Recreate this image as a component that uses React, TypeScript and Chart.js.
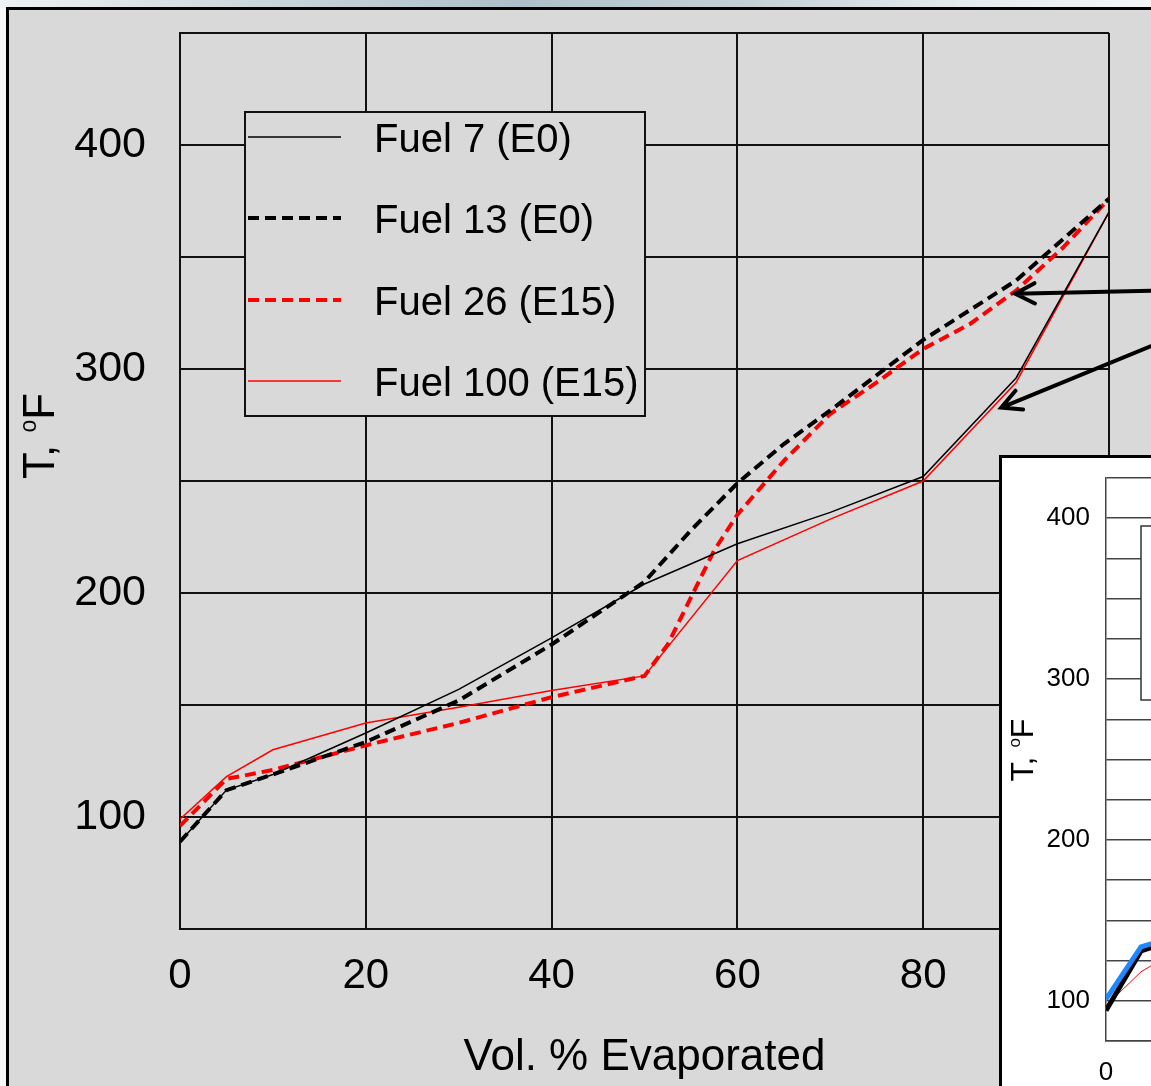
import { useEffect, useRef } from "react";
import { Chart, registerables } from "chart.js";

Chart.register(...registerables);

const FONT = '"Liberation Sans", Arial, sans-serif';

// ---------- Main chart data ----------
const xTicks = [0, 20, 40, 60, 80, 100];
const yTickLabels = [100, 200, 300, 400];

const fuel7X = [0, 5, 10, 20, 30, 40, 50, 60, 70, 80, 90, 100];
const fuel7T = [89, 112, 119, 137.5, 157, 180, 204, 222, 236, 252, 296, 370];

const fuel13X = [0, 5, 10, 20, 30, 40, 45, 50, 55, 60, 65, 70, 80, 90, 100];
const fuel13T = [89, 112, 119, 133.5, 152, 177, 191, 205, 228, 249, 266.5, 281.5, 313, 339.5, 376];

const fuel26X = [0, 5, 10, 20, 30, 40, 50, 52.5, 55, 57.5, 60, 65, 70, 75, 80, 85, 90, 95, 100];
const fuel26T = [96, 117, 121, 132, 142, 153.5, 163, 177, 198, 219, 235, 259, 280, 294, 309, 320, 335, 354, 376];

const fuel100X = [0, 5, 10, 20, 30, 40, 50, 60, 70, 80, 90, 100];
const fuel100T = [99, 118, 130, 142, 149, 156.5, 163, 214.5, 233, 250, 294, 370];

const seriesLabels = ["Fuel 7 (E0)", "Fuel 13 (E0)", "Fuel 26 (E15)", "Fuel 100 (E15)"];

// annotation arrows (data coordinates: tail -> tip)
const arrowTails = [
  [110, 335.4],
  [110, 319.5],
];
const arrowTips = [
  [89.9, 333.6],
  [88.4, 282.8],
];

// ---------- Inset chart data ----------
const insetBlueX = [0, 5, 10];
const insetBlueT = [101, 133.5, 140];
const insetBlackX = [0, 5, 10];
const insetBlackT = [94, 131, 138];
const insetRedX = [0, 5, 10];
const insetRedT = [97, 118, 131];

const toPts = (xs: number[], ys: number[]) => xs.map((x, i) => ({ x, y: ys[i] }));

function drawYTitle(ctx: CanvasRenderingContext2D, cx: number, cy: number, size: number) {
  const sup = Math.round(size * 0.53);
  const f = (s: number) => `${s}px ${FONT}`;
  ctx.save();
  ctx.translate(cx, cy);
  ctx.rotate(-Math.PI / 2);
  ctx.fillStyle = "#000";
  ctx.textAlign = "left";
  ctx.textBaseline = "alphabetic";
  ctx.font = f(size);
  const w1 = ctx.measureText("T, ").width;
  const w3 = ctx.measureText("F").width;
  ctx.font = f(sup);
  const w2 = ctx.measureText("o").width;
  const total = w1 + w2 + w3;
  const base = (size * 0.716) / 2;
  let u = -total / 2;
  ctx.font = f(size);
  ctx.fillText("T, ", u, base);
  u += w1;
  ctx.font = f(sup);
  ctx.fillText("o", u, base - size * 0.41);
  u += w2;
  ctx.font = f(size);
  ctx.fillText("F", u, base);
  ctx.restore();
}

const mainDecor = {
  id: "mainDecor",
  afterDatasetsDraw(chart: any) {
    const { ctx, chartArea, scales } = chart;
    // legend box
    const lx = chartArea.left + 65;
    const ly = chartArea.top + 79;
    const lw = 400;
    const lh = 304;
    ctx.save();
    ctx.fillStyle = "#d9d9d9";
    ctx.fillRect(lx, ly, lw, lh);
    ctx.strokeStyle = "#111";
    ctx.lineWidth = 2;
    ctx.strokeRect(lx, ly, lw, lh);
    const rows = [25, 106, 188, 269];
    chart.data.datasets.forEach((ds: any, i: number) => {
      const yy = ly + rows[i];
      ctx.beginPath();
      ctx.setLineDash(ds.borderDash || []);
      ctx.strokeStyle = ds.borderColor;
      ctx.lineWidth = ds.borderWidth;
      ctx.moveTo(lx + 3, yy);
      ctx.lineTo(lx + 96, yy);
      ctx.stroke();
      ctx.setLineDash([]);
      ctx.fillStyle = "#000";
      ctx.font = `40px ${FONT}`;
      ctx.textAlign = "left";
      ctx.textBaseline = "middle";
      ctx.fillText(ds.label, lx + 129, yy + 4);
    });
    ctx.restore();

    // arrows
    const xs = scales.x;
    const ys = scales.y;
    ctx.save();
    ctx.strokeStyle = "#000";
    ctx.lineWidth = 4;
    ctx.lineCap = "round";
    arrowTips.forEach((tip, i) => {
      const tail = arrowTails[i];
      const x1 = xs.getPixelForValue(tail[0]);
      const y1 = ys.getPixelForValue(tail[1]);
      const x2 = xs.getPixelForValue(tip[0]);
      const y2 = ys.getPixelForValue(tip[1]);
      const ang = Math.atan2(y1 - y2, x1 - x2);
      const hl = 22;
      const ha = 0.48;
      ctx.beginPath();
      ctx.moveTo(x1, y1);
      ctx.lineTo(x2, y2);
      ctx.moveTo(x2 + hl * Math.cos(ang - ha), y2 + hl * Math.sin(ang - ha));
      ctx.lineTo(x2, y2);
      ctx.lineTo(x2 + hl * Math.cos(ang + ha), y2 + hl * Math.sin(ang + ha));
      ctx.stroke();
    });
    ctx.restore();
  },
  afterDraw(chart: any) {
    drawYTitle(chart.ctx, 38, 436, 44);
  },
};

const insetDecor = {
  id: "insetDecor",
  afterDatasetsDraw(chart: any) {
    const { ctx, chartArea } = chart;
    ctx.save();
    ctx.fillStyle = "#fff";
    ctx.fillRect(chartArea.left + 35, chartArea.top + 48, 500, 174);
    ctx.strokeStyle = "#333";
    ctx.lineWidth = 1.5;
    ctx.strokeRect(chartArea.left + 35, chartArea.top + 48, 500, 174);
    ctx.restore();
  },
  afterDraw(chart: any) {
    drawYTitle(chart.ctx, 20, 292, 32);
  },
};

const fixX = (h: number) => (s: any) => {
  s.height = h;
  s.paddingLeft = 0;
  s.paddingRight = 0;
};
const fixY = (w: number) => (s: any) => {
  s.width = w;
  s.paddingTop = 0;
  s.paddingBottom = 0;
};

export default function App() {
  const mainRef = useRef<HTMLCanvasElement>(null);
  const insetRef = useRef<HTMLCanvasElement>(null);

  useEffect(() => {
    const main = new Chart(mainRef.current as HTMLCanvasElement, {
      type: "line",
      data: {
        datasets: [
          {
            label: seriesLabels[0],
            data: toPts(fuel7X, fuel7T),
            borderColor: "#000",
            borderWidth: 1.5,
            pointRadius: 0,
          },
          {
            label: seriesLabels[1],
            data: toPts(fuel13X, fuel13T),
            borderColor: "#000",
            borderWidth: 4,
            borderDash: [11, 6],
            pointRadius: 0,
          },
          {
            label: seriesLabels[2],
            data: toPts(fuel26X, fuel26T),
            borderColor: "#ff0000",
            borderWidth: 4,
            borderDash: [11, 6],
            pointRadius: 0,
          },
          {
            label: seriesLabels[3],
            data: toPts(fuel100X, fuel100T),
            borderColor: "#ff0000",
            borderWidth: 1.5,
            pointRadius: 0,
          },
        ],
      } as any,
      options: {
        animation: false,
        responsive: false,
        devicePixelRatio: 1,
        layout: { padding: { top: 33, right: 42, left: 0, bottom: 0 } },
        plugins: { legend: { display: false }, tooltip: { enabled: false } },
        elements: { line: { tension: 0 } },
        scales: {
          x: {
            type: "linear",
            min: 0,
            max: 100,
            afterFit: fixX(157),
            afterBuildTicks: (s: any) => {
              s.ticks = xTicks.map((v) => ({ value: v }));
            },
            ticks: {
              color: "#000",
              font: { size: 42, family: FONT },
              padding: 22,
              maxRotation: 0,
            },
            grid: { color: "#111", lineWidth: 2, drawTicks: false },
            border: { color: "#111", width: 2 },
            title: {
              display: true,
              text: "Vol. % Evaporated",
              color: "#000",
              font: { size: 44, family: FONT },
              padding: { top: 0, bottom: 2 },
            },
          },
          y: {
            type: "linear",
            min: 50,
            max: 450,
            afterFit: fixY(180),
            ticks: {
              stepSize: 50,
              color: "#000",
              font: { size: 43, family: FONT },
              padding: 34,
              callback: (v: any) => (yTickLabels.includes(Number(v)) ? String(v) : ""),
            },
            grid: { color: "#111", lineWidth: 2, drawTicks: false },
            border: { color: "#111", width: 2 },
          },
        },
      } as any,
      plugins: [mainDecor],
    });

    const inset = new Chart(insetRef.current as HTMLCanvasElement, {
      type: "line",
      data: {
        datasets: [
          {
            label: "blue",
            data: toPts(insetBlueX, insetBlueT),
            borderColor: "#1e88ff",
            borderWidth: 5,
            pointRadius: 0,
          },
          {
            label: "black",
            data: toPts(insetBlackX, insetBlackT),
            borderColor: "#000",
            borderWidth: 5,
            pointRadius: 0,
          },
          {
            label: "red",
            data: toPts(insetRedX, insetRedT),
            borderColor: "#ff0000",
            borderWidth: 1,
            pointRadius: 0,
          },
        ],
      } as any,
      options: {
        animation: false,
        responsive: false,
        devicePixelRatio: 1,
        layout: { padding: { top: 20, right: 16, left: 0, bottom: 0 } },
        plugins: { legend: { display: false }, tooltip: { enabled: false } },
        elements: { line: { tension: 0 } },
        scales: {
          x: {
            type: "linear",
            min: 0,
            max: 100,
            afterFit: fixX(67),
            afterBuildTicks: (s: any) => {
              s.ticks = xTicks.map((v) => ({ value: v }));
            },
            ticks: {
              color: "#000",
              font: { size: 26, family: FONT },
              padding: 16,
              maxRotation: 0,
            },
            grid: { display: false, drawTicks: false },
            border: { color: "#444", width: 1.5 },
          },
          y: {
            type: "linear",
            min: 75,
            max: 425,
            afterFit: fixY(104),
            ticks: {
              stepSize: 25,
              color: "#000",
              font: { size: 26, family: FONT },
              padding: 16,
              callback: (v: any) => (yTickLabels.includes(Number(v)) ? String(v) : ""),
            },
            grid: { color: "#444", lineWidth: 1.5, drawTicks: false },
            border: { color: "#444", width: 1.5 },
          },
        },
      } as any,
      plugins: [insetDecor],
    });

    return () => {
      main.destroy();
      inset.destroy();
    };
  }, []);

  return (
    <div
      style={{
        position: "fixed",
        left: 0,
        top: 0,
        width: 1151,
        height: 1086,
        overflow: "hidden",
        background: "#f7f7f7",
      }}
    >
      <div
        style={{
          position: "absolute",
          left: 0,
          top: 0,
          width: 1151,
          height: 8,
          background:
            "linear-gradient(90deg, #eef2f3 0%, #cbd6dc 22%, #afbfc9 45%, #c4d0d7 65%, #e6ecef 85%, #f3f6f7 100%)",
        }}
      />
      <div
        style={{
          position: "absolute",
          left: 6,
          top: 7,
          width: 1300,
          height: 1200,
          borderLeft: "3px solid #000",
          borderTop: "3px solid #000",
          background: "#d9d9d9",
        }}
      />
      <canvas
        ref={mainRef}
        width={1151}
        height={1086}
        style={{ position: "absolute", left: 0, top: 0, display: "block" }}
      />
      <div
        style={{
          position: "absolute",
          left: 999,
          top: 455,
          width: 900,
          height: 800,
          border: "3px solid #000",
          background: "#fff",
        }}
      >
        <canvas
          ref={insetRef}
          width={820}
          height={650}
          style={{ position: "absolute", left: 0, top: 0, display: "block" }}
        />
      </div>
    </div>
  );
}
